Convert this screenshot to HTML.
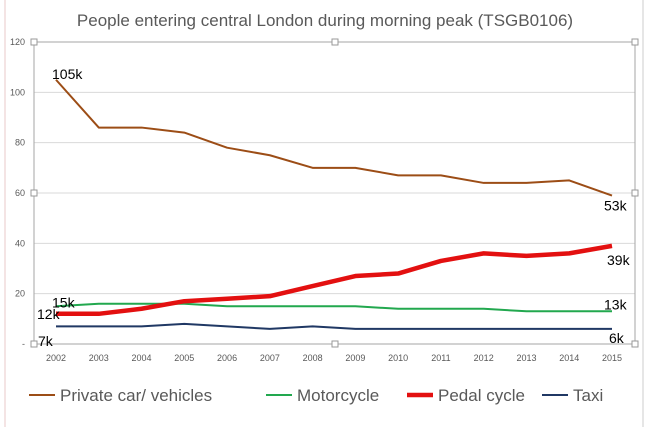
<!DOCTYPE html>
<html><head><meta charset="utf-8"><style>
body{margin:0;background:#fff;}
svg{display:block;font-family:"Liberation Sans",sans-serif;}
</style></head><body>
<svg id="c" width="649" height="427">
<rect x="0" y="0" width="649" height="427" fill="#fff"/>
<line x1="5" y1="0" x2="5" y2="427" stroke="#e8c8c8"/>
<line x1="643" y1="0" x2="643" y2="427" stroke="#ccc"/>
<text x="325" y="26" text-anchor="middle" font-size="17" fill="#595959">People entering central London during morning peak (TSGB0106)</text>
<g id="grid"></g><g id="axes"></g><g id="series"></g><g id="labels"></g>
<g id="legend"></g>
</svg>
<script>
const years=["2002","2003","2004","2005","2006","2007","2008","2009","2010","2011","2012","2013","2014","2015"];
const yTicks=[0,20,40,60,80,100,120];
const yTickLabels=["-","20","40","60","80","100","120"];
const privateCar=[105,86,86,84,78,75,70,70,67,67,64,64,65,59];
const motorcycle=[15,16,16,16,15,15,15,15,14,14,14,13,13,13];
const pedalCycle=[12,12,14,17,18,19,23,27,28,33,36,35,36,39];
const taxi=[7,7,7,8,7,6,7,6,6,6,6,6,6,6];
const ns="http://www.w3.org/2000/svg";
const X0=34,X1=635,Y0=344,Y1=42;
const x=i=>56+i*(612-56)/(years.length-1);
const y=v=>Y0-(v/120)*(Y0-Y1);
function mk(t,a,p){const e=document.createElementNS(ns,t);for(const k in a)e.setAttribute(k,a[k]);p.appendChild(e);return e;}
const g=document.getElementById('grid'),ax=document.getElementById('axes'),s=document.getElementById('series'),lb=document.getElementById('labels'),lg=document.getElementById('legend');
yTicks.forEach((v,i)=>{
 if(v>0&&v<120){const l=mk('line',{x1:X0,x2:X1,y1:y(v),y2:y(v),stroke:'#d9d9d9'},g);
 
 }
 const t=mk('text',{x:25,y:y(v)+3,'text-anchor':'end','font-size':9,fill:'#595959'},ax);t.textContent=yTickLabels[i];
 
 
});
const fr=mk('rect',{x:X0,y:Y1,width:X1-X0,height:Y0-Y1,fill:'none',stroke:'#a6a6a6'},ax);


[[X0,Y1],[X1,Y1],[X0,193],[X1,193],[X0,Y0],[X1,Y0],[335,Y1],[335,Y0]].forEach(p=>{
 const h=mk('rect',{x:p[0]-3,y:p[1]-3,width:6,height:6,fill:'#fff',stroke:'#999'},ax);
 
 
});
years.forEach((yr,i)=>{const t=mk('text',{x:x(i),y:361,'text-anchor':'middle','font-size':9,fill:'#595959'},ax);t.textContent=yr;
 
 });
const ser=[[privateCar,'#9c4d16',2,'series-private-car','Private car/ vehicles'],[motorcycle,'#22a84f',2,'series-motorcycle','Motorcycle'],[pedalCycle,'#e31010',4.5,'series-pedal-cycle','Pedal cycle'],[taxi,'#203864',2,'series-taxi','Taxi']];
ser.forEach(a=>{const p=mk('polyline',{points:a[0].map((v,i)=>x(i)+','+y(v)).join(' '),fill:'none',stroke:a[1],'stroke-width':a[2],'stroke-linejoin':'round'},s);
 
 });
const n=years.length-1;
const dl=[[52,privateCar[0]+'k',y(privateCar[0])-1],[52,motorcycle[0]+'k',y(motorcycle[0])+1],[37,pedalCycle[0]+'k',y(pedalCycle[0])+5],[38,taxi[0]+'k',Y0+2],
[604,'53k',y(privateCar[n])+15],[607,pedalCycle[n]+'k',y(pedalCycle[n])+19],[604,motorcycle[n]+'k',y(motorcycle[n])-2],[609,taxi[n]+'k',Y0-1]];
dl.forEach(d=>{const t=mk('text',{x:d[0],y:d[2],'font-size':14,fill:'#000'},lb);t.textContent=d[1];
 
 });
const lx=[29,266,407,542];
ser.forEach((a,i)=>{const l=mk('line',{x1:lx[i],x2:lx[i]+26,y1:395,y2:395,stroke:a[1],'stroke-width':a[2]},lg);
 
 
 const t=mk('text',{x:lx[i]+31,y:401,'font-size':17,fill:'#595959'},lg);t.textContent=a[4];
 
 });
</script>
</body></html>
